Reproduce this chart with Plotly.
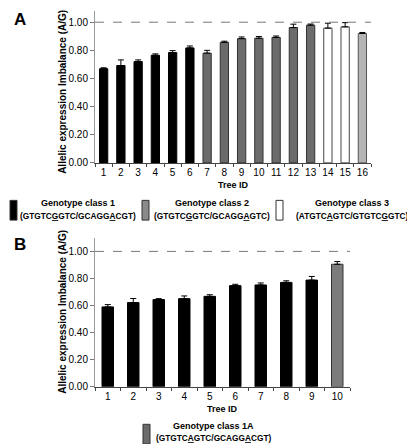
import plotly.graph_objects as go

# ---- Data ----
trees_a = [str(i) for i in range(1, 17)]
values_a = [0.669, 0.692, 0.72, 0.765, 0.784, 0.817, 0.78, 0.857, 0.883, 0.886, 0.892, 0.962, 0.979, 0.958, 0.967, 0.92]
errors_a = [0.007, 0.04, 0.012, 0.01, 0.014, 0.014, 0.02, 0.008, 0.012, 0.012, 0.01, 0.024, 0.008, 0.035, 0.03, 0.007]
classes_a = [1, 1, 1, 1, 1, 1, 2, 2, 2, 2, 2, 2, 2, 3, 3, 4]

trees_b = [str(i) for i in range(1, 11)]
values_b = [0.59, 0.622, 0.644, 0.651, 0.668, 0.747, 0.752, 0.771, 0.788, 0.905]
errors_b = [0.017, 0.03, 0.007, 0.02, 0.012, 0.01, 0.015, 0.012, 0.027, 0.02]
classes_b = [1, 1, 1, 1, 1, 1, 1, 1, 1, 5]

y_ticks = [0.0, 0.2, 0.4, 0.6, 0.8, 1.0]
y_ticklabels = ["0.00", "0.20", "0.40", "0.60", "0.80", "1.00"]

legend_a = [
    ("Genotype class 1", "(GTGTC<u>G</u>GTC/GCAGG<u>A</u>CGT)", 1),
    ("Genotype class 2", "(GTGTC<u>G</u>GTC/GCAGG<u>A</u>GTC)", 2),
    ("Genotype class 3", "(ATGTC<u>A</u>GTC/GTGTC<u>G</u>GTC)", 3),
]
legend_b = [("Genotype class 1A", "(GTGTC<u>A</u>GTC/GCAGG<u>A</u>CGT)", 5)]

fill = {1: "#000000", 2: "#6b6b6b", 3: "#ffffff", 4: "#b4b4b4", 5: "#7c7c7c"}
edge = {1: "#000000", 2: "#333333", 3: "#444444", 4: "#555555", 5: "#333333"}
legend_fill = {1: "#000000", 2: "#8a8a8a", 3: "#ffffff", 5: "#6b6b6b"}

W, H = 415, 444
FONT = "Arial, Liberation Sans, sans-serif"

def px(x):
    return x / W

def py(y):
    return 1 - y / H

fig = go.Figure()

fig.add_trace(go.Bar(
    x=trees_a, y=values_a, width=0.48,
    marker=dict(color=[fill[c] for c in classes_a],
                line=dict(color=[edge[c] for c in classes_a], width=1)),
    error_y=dict(type="data", symmetric=False, array=errors_a,
                 arrayminus=[0] * len(errors_a), color="#000", thickness=1, width=3),
    xaxis="x", yaxis="y", showlegend=False))

fig.add_trace(go.Bar(
    x=trees_b, y=values_b, width=0.45,
    marker=dict(color=[fill[c] for c in classes_b],
                line=dict(color=[edge[c] for c in classes_b], width=1)),
    error_y=dict(type="data", symmetric=False, array=errors_b,
                 arrayminus=[0] * len(errors_b), color="#000", thickness=1, width=3),
    xaxis="x2", yaxis="y2", showlegend=False))

xcommon = dict(type="category", showline=True, linecolor="#444", linewidth=1,
               ticks="outside", tickson="boundaries", ticklen=3, tickcolor="#444",
               showgrid=False, zeroline=False, tickangle=0,
               tickfont=dict(family=FONT, size=10, color="#000"))
ycommon = dict(showline=True, linecolor="#999", linewidth=1, ticks="outside",
               ticklen=4, tickcolor="#777", showgrid=False, zeroline=False,
               tickvals=y_ticks, ticktext=y_ticklabels,
               tickfont=dict(family=FONT, size=10, color="#000"))

fig.update_layout(
    width=W, height=H, margin=dict(l=0, r=0, t=0, b=0),
    paper_bgcolor="white", plot_bgcolor="white", bargap=0.5,
    xaxis=dict(xcommon, domain=[px(87), px(363)], anchor="y"),
    yaxis=dict(ycommon, domain=[py(157), py(3)], range=[0, 1.08], anchor="x"),
    xaxis2=dict(xcommon, domain=[px(87), px(342)], anchor="y2"),
    yaxis2=dict(ycommon, domain=[py(384), py(233)], range=[0, 1.1], anchor="x2"),
    font=dict(family=FONT, color="#000"),
)

shapes = [
    dict(type="line", xref="x domain", yref="y", x0=0, x1=1, y0=1, y1=1,
         line=dict(color="#777", width=1, dash="dash")),
    dict(type="line", xref="x2 domain", yref="y2", x0=0, x1=1, y0=1, y1=1,
         line=dict(color="#777", width=1, dash="dash")),
]
ann = []

def text(x, y, s, size=9, bold=True, angle=0, anchor="center"):
    ann.append(dict(x=px(x), y=py(y), xref="paper", yref="paper", text=("<b>%s</b>" % s) if bold else s,
                    showarrow=False, xanchor=anchor, yanchor="middle", textangle=angle,
                    font=dict(family=FONT, size=size, color="#000")))

# panel letters
text(12, 12, "A", size=17)
text(12, 240, "B", size=17)
# y titles
text(55, 85, "Allelic expression Imbalance (A/G)", size=10, angle=-90)
text(55, 308, "Allelic expression Imbalance (A/G)", size=10, angle=-90)
# x titles
text(225, 179, "Tree ID", size=9)
text(214, 406, "Tree ID", size=9)

# legends
leg_a_pos = [(2, 70), (134, 204), (268, 344)]
for (l1, l2, c), (bx, cx) in zip(legend_a, leg_a_pos):
    shapes.append(dict(type="rect", xref="paper", yref="paper",
                       x0=px(bx), x1=px(bx + 7), y0=py(215), y1=py(195),
                       fillcolor=legend_fill[c], line=dict(color="#333", width=1)))
    text(cx, 198, l1, size=9)
    text(cx, 211, l2, size=8.3)

for (l1, l2, c) in legend_b:
    shapes.append(dict(type="rect", xref="paper", yref="paper",
                       x0=px(135), x1=px(142), y0=py(442), y1=py(422),
                       fillcolor=legend_fill[c], line=dict(color="#333", width=1)))
    text(205, 424, l1, size=9)
    text(205, 436, l2, size=8.3)

fig.update_layout(shapes=shapes, annotations=ann)
fig.write_html("out.html")
